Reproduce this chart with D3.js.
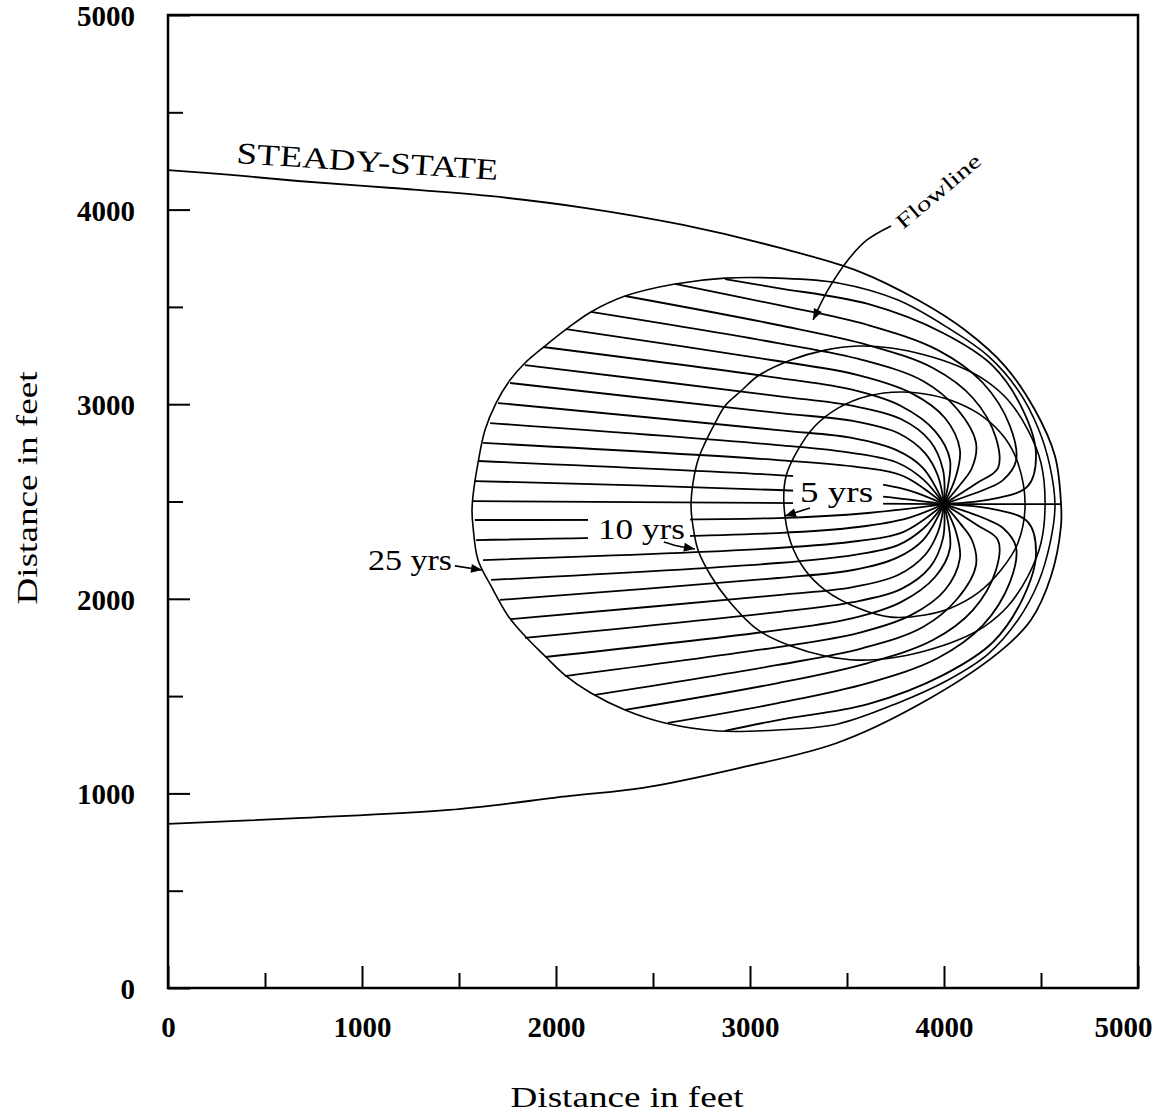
<!DOCTYPE html>
<html><head><meta charset="utf-8">
<script src="https://cdn.jsdelivr.net/npm/d3@7"></script>
<style>body{margin:0;background:#fff}svg{display:block}</style>
</head><body>
<svg id="c" width="1164" height="1120"></svg>
<script>
// ---------------- data (feet) ----------------
const xTickValues = [0, 1000, 2000, 3000, 4000, 5000];
const yTickValues = [0, 1000, 2000, 3000, 4000, 5000];
const minorTickValues = [500, 1500, 2500, 3500, 4500];
const xAxisTitle = "Distance in feet";
const yAxisTitle = "Distance in feet";

const steadyStateTop = [[0,4203],[325,4178],[670,4147],[1155,4111],[1655,4070],[2155,4008],[2655,3921],[3155,3803],[3557,3684],[3866,3535],[4108,3381],[4314,3196],[4469,2970],[4572,2734],[4603,2492]];
const steadyStateBottom = [[0,843],[696,874],[1448,915],[2072,987],[2448,1028],[2948,1131],[3448,1259],[3866,1454],[4278,1721],[4448,1891],[4552,2117],[4603,2374],[4603,2492]];
const dividingLine = [[4000,2487],[4603,2487]];
const wellLocation = [4000, 2487];

const isochrone5yr = [[3175,2482],[3186,2631],[3247,2765],[3335,2888],[3454,2980],[3608,3042],[3778,3063],[3933,3047],[4072,3006],[4211,2929],[4314,2826],[4381,2698],[4418,2482],[4381,2287],[4294,2148],[4175,2030],[4036,1953],[3902,1917],[3727,1906],[3557,1953],[3387,2045],[3284,2148],[3211,2287]];
const isochrone10yr = [[2696,2477],[2706,2595],[2732,2713],[2768,2801],[2820,2903],[2871,2991],[2954,3068],[3041,3145],[3211,3227],[3387,3278],[3557,3299],[3727,3289],[3902,3253],[4072,3196],[4211,3124],[4330,3022],[4433,2867],[4500,2698],[4521,2492],[4500,2287],[4433,2117],[4330,1963],[4211,1860],[4072,1788],[3902,1732],[3727,1696],[3557,1685],[3387,1706],[3211,1757],[3041,1840],[2887,1994],[2799,2117],[2732,2251],[2706,2374]];
const isochrone25yr = [[1567,2456],[1572,2528],[1598,2698],[1634,2867],[1691,3006],[1763,3124],[1840,3212],[1943,3299],[2062,3392],[2180,3474],[2356,3556],[2613,3618],[2871,3648],[3144,3648],[3454,3623],[3763,3535],[4021,3392],[4227,3248],[4381,3073],[4485,2878],[4546,2682],[4572,2477],[4546,2282],[4485,2081],[4381,1891],[4227,1716],[4021,1583],[3763,1465],[3454,1357],[3144,1326],[2835,1321],[2562,1362],[2356,1429],[2180,1516],[2046,1608],[1943,1706],[1840,1809],[1753,1912],[1665,2066],[1598,2199],[1572,2374]];

const flowlines = [
  [[2871,3643],[3144,3597],[3608,3515],[3995,3366],[4253,3196],[4407,2970],[4474,2749],[4433,2580],[4253,2513],[4000,2487]],
  [[2613,3618],[3144,3510],[3608,3407],[3969,3278],[4201,3109],[4340,2888],[4371,2708],[4304,2610],[4216,2564],[4000,2487]],
  [[2356,3556],[3144,3407],[3608,3304],[3943,3186],[4149,3032],[4268,2826],[4278,2672],[4170,2595],[4000,2487]],
  [[2180,3474],[3144,3314],[3582,3227],[3892,3119],[4072,2970],[4165,2801],[4144,2672],[4082,2585],[4000,2487]],
  [[2052,3386],[3144,3222],[3557,3150],[3830,3058],[4005,2929],[4082,2765],[4062,2631],[4000,2487]],
  [[1933,3294],[3144,3135],[3531,3073],[3778,2991],[3954,2862],[4031,2713],[4000,2487]],
  [[1840,3201],[3144,3042],[3531,2991],[3778,2924],[3928,2811],[3995,2662],[4000,2487]],
  [[1763,3109],[3144,2955],[3531,2914],[3763,2852],[3902,2749],[3969,2631],[4000,2487]],
  [[1701,3006],[3144,2867],[3531,2826],[3753,2765],[3892,2672],[4000,2487]],
  [[1660,2903],[3144,2790],[3531,2749],[3763,2698],[3897,2610],[4000,2487]],
  [[1624,2801],[3144,2713],[3557,2677],[3789,2631],[4000,2487]],
  [[1598,2708],[3144,2636],[3557,2605],[3814,2559],[4000,2487]],
  [[1582,2605],[3144,2559],[3608,2533],[4000,2487]],
  [[1572,2502],[4000,2487]],
  [[1582,2405],[3144,2415],[3608,2441],[4000,2487]],
  [[1588,2302],[3144,2338],[3557,2369],[3814,2415],[4000,2487]],
  [[1624,2199],[3144,2261],[3557,2297],[3789,2343],[4000,2487]],
  [[1665,2097],[3144,2184],[3531,2225],[3763,2276],[3897,2364],[4000,2487]],
  [[1711,1994],[3144,2107],[3531,2148],[3753,2209],[3892,2302],[4000,2487]],
  [[1768,1896],[3144,2019],[3531,2060],[3763,2122],[3902,2225],[3969,2343],[4000,2487]],
  [[1840,1799],[3144,1932],[3531,1983],[3778,2050],[3928,2163],[3995,2312],[4000,2487]],
  [[1943,1701],[3144,1839],[3531,1901],[3778,1983],[3954,2112],[4031,2261],[4000,2487]],
  [[2046,1603],[3144,1752],[3557,1824],[3830,1916],[4005,2045],[4082,2209],[4062,2343],[4000,2487]],
  [[2201,1506],[3144,1660],[3582,1747],[3892,1855],[4072,2004],[4165,2173],[4144,2302],[4082,2389],[4000,2487]],
  [[2356,1429],[3144,1567],[3608,1670],[3943,1788],[4149,1942],[4268,2148],[4278,2302],[4170,2379],[4000,2487]],
  [[2577,1362],[3144,1464],[3608,1567],[3969,1696],[4201,1865],[4340,2086],[4371,2266],[4304,2364],[4216,2410],[4000,2487]],
  [[2871,1321],[3144,1377],[3608,1459],[3995,1608],[4253,1778],[4407,2004],[4474,2225],[4433,2394],[4253,2461],[4000,2487]]
];

// annotation texts (anchor point in feet)
const labelTexts = ["STEADY-STATE", "Flowline", "25 yrs", "10 yrs", "5 yrs"];
const labelAnchors = [[351,4239],[3789,3895],[1031,2148],[2216,2307],[3258,2497]];
const labelAngles = [3.7, -40, 0, 0, 0];
const labelSizes = [30, 21, 29, 29, 29];
const labelLengths = [262, 104, 84, 87, 73];
// white boxes behind isochrone labels [x0,y0,x1,y1]
const labelBoxes = [[2165,2446,2691,2261],[3222,2652,3686,2456]];
// pointer arrows
const arrowPaths = [
  [[3727,3916],[3603,3844],[3505,3741],[3402,3587],[3325,3433]],
  [[1479,2169],[1619,2148]],
  [[2556,2292],[2629,2271],[2716,2256]],
  [[3309,2467],[3180,2425]]
];

// ---------------- drawing ----------------
const svg = d3.select("#c");
svg.append("rect").attr("width",1164).attr("height",1120).attr("fill","#fff");
const x = d3.scaleLinear().domain([0,5000]).range([168,1138]);
const y = d3.scaleLinear().domain([0,5000]).range([988,15]);
const serif = "'Liberation Serif','Times New Roman',serif";
const ink = "#000";

const line = d3.line().x(d=>x(d[0])).y(d=>y(d[1])).curve(d3.curveCatmullRom.alpha(0.5));
const closedLine = d3.line().x(d=>x(d[0])).y(d=>y(d[1])).curve(d3.curveCatmullRomClosed.alpha(0.5));

// flowlines
svg.append("g").selectAll("path").data(flowlines).join("path")
  .attr("d", line).attr("fill","none").attr("stroke",ink).attr("stroke-width",1.8);

// label boxes
svg.append("g").selectAll("rect").data(labelBoxes).join("rect")
  .attr("x", d=>x(d[0])).attr("y", d=>y(d[1]))
  .attr("width", d=>x(d[2])-x(d[0])).attr("height", d=>y(d[3])-y(d[1]))
  .attr("fill","#fff");

// isochrones
svg.append("g").selectAll("path").data([isochrone5yr, isochrone10yr, isochrone25yr]).join("path")
  .attr("d", closedLine).attr("fill","none").attr("stroke",ink).attr("stroke-width",1.6);

// steady state capture zone + dividing streamline
svg.append("g").selectAll("path").data([steadyStateTop, steadyStateBottom, dividingLine]).join("path")
  .attr("d", line).attr("fill","none").attr("stroke",ink).attr("stroke-width",1.8);

// well
svg.append("circle").attr("cx", x(wellLocation[0])).attr("cy", y(wellLocation[1])).attr("r",4).attr("fill",ink);

// arrows
const ag = svg.append("g");
arrowPaths.forEach(pts => {
  ag.append("path").attr("d", line(pts)).attr("fill","none").attr("stroke",ink).attr("stroke-width",1.6);
  const p = pts.map(d=>[x(d[0]), y(d[1])]);
  const [tx,ty] = p[p.length-1], [sx,sy] = p[p.length-2];
  const a = Math.atan2(ty-sy, tx-sx), L = 11, W = 4.5;
  const bx = tx - L*Math.cos(a), by = ty - L*Math.sin(a);
  const tri = [[tx,ty],[bx - W*Math.sin(a), by + W*Math.cos(a)],[bx + W*Math.sin(a), by - W*Math.cos(a)]];
  ag.append("path").attr("d","M"+tri.join("L")+"Z").attr("fill",ink);
});

// labels
svg.append("g").selectAll("text").data(labelTexts).join("text")
  .attr("transform", (d,i)=>`translate(${x(labelAnchors[i][0])},${y(labelAnchors[i][1])}) rotate(${labelAngles[i]})`)
  .attr("font-family", serif).attr("font-size", (d,i)=>labelSizes[i]).attr("fill", ink)
  .attr("textLength", (d,i)=>labelLengths[i]).attr("lengthAdjust","spacingAndGlyphs")
  .text(d=>d);

// frame
svg.append("rect").attr("x", x(0)).attr("y", y(5000))
  .attr("width", x(5000)-x(0)).attr("height", y(0)-y(5000))
  .attr("fill","none").attr("stroke",ink).attr("stroke-width",2.5);

// axes
function styleAxis(g){
  g.select(".domain").remove();
  g.selectAll(".tick line").attr("stroke",ink).attr("stroke-width",2);
  g.selectAll(".tick text").attr("font-family",serif).attr("font-weight","bold").attr("font-size",29).attr("fill",ink);
}
const gx = svg.append("g").attr("transform",`translate(0,${y(0)})`)
  .call(d3.axisBottom(x).tickValues(xTickValues).tickSize(-22).tickPadding(28).tickFormat(d3.format("d")));
styleAxis(gx);
gx.selectAll(".tick text").filter(d=>d===5000).attr("text-anchor","end").attr("x",14);
const gxm = svg.append("g").attr("transform",`translate(0,${y(0)})`)
  .call(d3.axisBottom(x).tickValues(minorTickValues).tickSize(-15).tickFormat(""));
styleAxis(gxm);
const gy = svg.append("g").attr("transform",`translate(${x(0)},0)`)
  .call(d3.axisLeft(y).tickValues(yTickValues).tickSize(-22).tickPadding(33).tickFormat(d3.format("d")));
styleAxis(gy);
gy.selectAll(".tick text").attr("dy","0.36em");
const gym = svg.append("g").attr("transform",`translate(${x(0)},0)`)
  .call(d3.axisLeft(y).tickValues(minorTickValues).tickSize(-15).tickFormat(""));
styleAxis(gym);

// axis titles
svg.append("text").attr("x",627).attr("y",1107).attr("text-anchor","middle")
  .attr("font-family",serif).attr("font-size",30).attr("fill",ink)
  .attr("textLength",233).attr("lengthAdjust","spacingAndGlyphs").text(xAxisTitle);
svg.append("text").attr("transform","translate(37,488) rotate(-90)").attr("text-anchor","middle")
  .attr("font-family",serif).attr("font-size",30).attr("fill",ink)
  .attr("textLength",233).attr("lengthAdjust","spacingAndGlyphs").text(yAxisTitle);
</script>
</body></html>
